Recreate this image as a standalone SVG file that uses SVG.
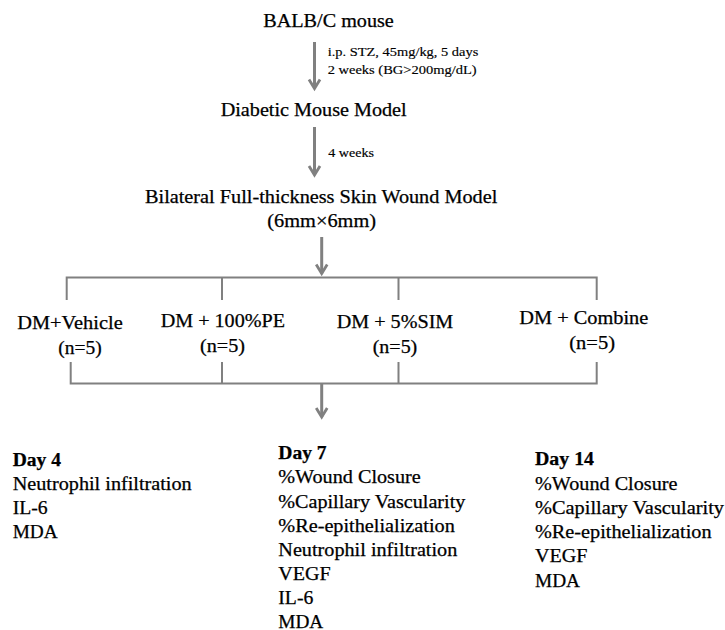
<svg xmlns="http://www.w3.org/2000/svg" width="725" height="630" viewBox="0 0 725 630">
<style>
text{font-family:"Liberation Serif","Times New Roman",serif;fill:#000;stroke:#000;stroke-width:0.25;}
.t{font-size:18px;}
.s{font-size:12px;stroke-width:0.15;}
.b{font-weight:bold;}
.ln{fill:none;stroke:#808080;stroke-width:2;}
.ar{fill:none;stroke:#808080;stroke-width:3;marker-end:url(#ah);}
</style>
<defs>
<marker id="ah" markerUnits="userSpaceOnUse" markerWidth="16" markerHeight="16" viewBox="-13 -8 16 16" refX="0" refY="0" orient="auto" overflow="visible">
<path d="M-9,-5.5 L0,0 L-9,5.5" fill="none" stroke="#808080" stroke-width="2.8"/>
</marker>
</defs>
<rect width="725" height="630" fill="#fff"/>

<g id="connectors">
<line class="ar" x1="314.5" y1="42" x2="314.5" y2="88.5"/>
<line class="ar" x1="314.5" y1="127" x2="314.5" y2="175"/>
<line class="ar" x1="321.7" y1="237" x2="321.7" y2="273.5"/>
<path class="ln" d="M66.7,300 V277.5 H596.7 V300 M222,277.5 V300 M398.5,277.5 V300"/>
<path class="ln" d="M70.7,362 V383.5 H596.7 V362 M222,362 V383.5 M398.5,362 V383.5"/>
<line class="ar" x1="321.7" y1="384" x2="321.7" y2="417"/>
<text class="s" x="327.7" y="56" textLength="150.6" lengthAdjust="spacingAndGlyphs">i.p. STZ, 45mg/kg, 5 days</text>
<text class="s" x="327.7" y="74" textLength="149" lengthAdjust="spacingAndGlyphs">2 weeks (BG&gt;200mg/dL)</text>
<text class="s" x="328.3" y="156.5" textLength="45.7" lengthAdjust="spacingAndGlyphs">4 weeks</text>
</g>

<g id="balbc">
<text class="t" x="263.3" y="27.3" textLength="130.5" lengthAdjust="spacingAndGlyphs">BALB/C mouse</text>
</g>
<g id="diabetic">
<text class="t" x="220.7" y="115.5" textLength="186" lengthAdjust="spacingAndGlyphs">Diabetic Mouse Model</text>
</g>
<g id="wound">
<text class="t" x="145" y="202.7" textLength="352.3" lengthAdjust="spacingAndGlyphs">Bilateral Full-thickness Skin Wound Model</text>
<text class="t" x="267.3" y="226.7" textLength="108.7" lengthAdjust="spacingAndGlyphs">(6mm×6mm)</text>
</g>

<g id="vehicle">
<text class="t" x="17.3" y="329.3" textLength="105.4" lengthAdjust="spacingAndGlyphs">DM+Vehicle</text>
<text class="t" x="58.3" y="354" textLength="43.4" lengthAdjust="spacingAndGlyphs">(n=5)</text>
</g>
<g id="pe">
<text class="t" x="160.7" y="326.7" textLength="124.3" lengthAdjust="spacingAndGlyphs">DM + 100%PE</text>
<text class="t" x="200" y="351.7" textLength="45" lengthAdjust="spacingAndGlyphs">(n=5)</text>
</g>
<g id="sim">
<text class="t" x="336.7" y="328.3" textLength="116.6" lengthAdjust="spacingAndGlyphs">DM + 5%SIM</text>
<text class="t" x="372.7" y="353.3" textLength="44.6" lengthAdjust="spacingAndGlyphs">(n=5)</text>
</g>
<g id="combine">
<text class="t" x="519.3" y="324.3" textLength="129" lengthAdjust="spacingAndGlyphs">DM + Combine</text>
<text class="t" x="569.3" y="349.3" textLength="45.7" lengthAdjust="spacingAndGlyphs">(n=5)</text>
</g>

<g id="day4">
<text class="t b" x="12.7" y="466" textLength="48.3" lengthAdjust="spacingAndGlyphs">Day 4</text>
<text class="t" x="12.7" y="489.5" textLength="179" lengthAdjust="spacingAndGlyphs">Neutrophil infiltration</text>
<text class="t" x="12.7" y="514" textLength="35" lengthAdjust="spacingAndGlyphs">IL-6</text>
<text class="t" x="12.7" y="538.3" textLength="45" lengthAdjust="spacingAndGlyphs">MDA</text>
</g>
<g id="day7">
<text class="t b" x="278.3" y="459.3" textLength="48.3" lengthAdjust="spacingAndGlyphs">Day 7</text>
<text class="t" x="278.3" y="483.3" textLength="142.4" lengthAdjust="spacingAndGlyphs">%Wound Closure</text>
<text class="t" x="278.3" y="507.6" textLength="187" lengthAdjust="spacingAndGlyphs">%Capillary Vascularity</text>
<text class="t" x="278.3" y="531.8" textLength="176.5" lengthAdjust="spacingAndGlyphs">%Re-epithelialization</text>
<text class="t" x="278.3" y="556.1" textLength="179" lengthAdjust="spacingAndGlyphs">Neutrophil infiltration</text>
<text class="t" x="278.3" y="580.3" textLength="52.4" lengthAdjust="spacingAndGlyphs">VEGF</text>
<text class="t" x="278.3" y="604.4" textLength="35" lengthAdjust="spacingAndGlyphs">IL-6</text>
<text class="t" x="278.3" y="627.5" textLength="45" lengthAdjust="spacingAndGlyphs">MDA</text>
</g>
<g id="day14">
<text class="t b" x="535" y="465" textLength="59" lengthAdjust="spacingAndGlyphs">Day 14</text>
<text class="t" x="535" y="489.5" textLength="142.4" lengthAdjust="spacingAndGlyphs">%Wound Closure</text>
<text class="t" x="535" y="513.8" textLength="189" lengthAdjust="spacingAndGlyphs">%Capillary Vascularity</text>
<text class="t" x="535" y="538.1" textLength="176.5" lengthAdjust="spacingAndGlyphs">%Re-epithelialization</text>
<text class="t" x="535" y="562.4" textLength="52.4" lengthAdjust="spacingAndGlyphs">VEGF</text>
<text class="t" x="535" y="586.7" textLength="45" lengthAdjust="spacingAndGlyphs">MDA</text>
</g>
</svg>
